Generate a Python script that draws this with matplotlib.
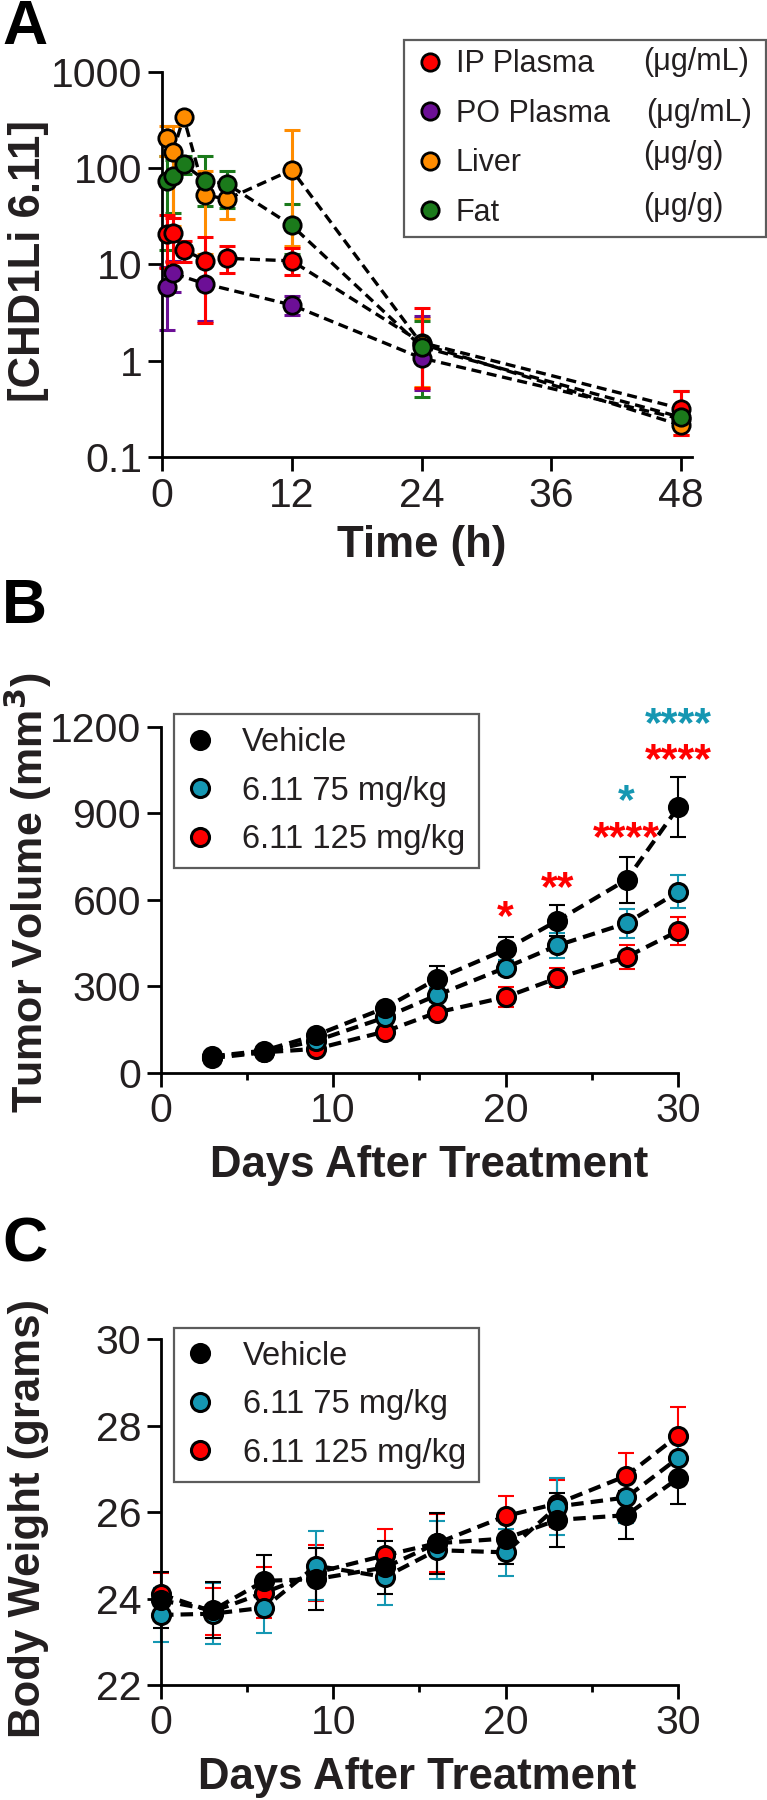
import matplotlib
matplotlib.use("Agg")
import matplotlib.pyplot as plt
import numpy as np

plt.rcParams['font.family'] = ['Liberation Sans', 'DejaVu Sans']
TXT = '#231F20'

# ---------------- panel A data (pharmacokinetics) ----------------
ip_t = [0.5, 1, 2, 4, 6, 12, 24, 48]
ip_mean = [20.9, 21.0, 14.2, 11.0, 11.6, 10.9, 1.55, 0.32]
ip_lo = [9.3, 10.5, 10.5, 2.47, 8.1, 7.7, 0.52, 0.17]
ip_hi = [32.7, 30.4, 17.6, 19.5, 15.6, 14.8, 3.53, 0.49]

po_t = [0.5, 1, 4, 12, 24, 48]
po_mean = [5.9, 8.1, 6.3, 3.8, 1.07, 0.25]
po_lo = [2.1, 5.2, 2.6, 3.0, 0.5, 0.2]
po_hi = [9.5, 11.0, 10.0, 4.7, 2.9, 0.3]

liver_t = [0.5, 1, 2, 4, 6, 12, 24, 48]
liver_mean = [207, 146, 337, 52.7, 47.6, 95.7, 1.5, 0.215]
liver_lo = [132, 25, 337, 13, 29.8, 15.7, 0.54, 0.17]
liver_hi = [273, 273, 337, 93, 70.8, 249, 2.8, 0.28]

fat_t = [0.5, 1, 2, 4, 6, 12, 24, 48]
fat_mean = [74, 82, 110, 74, 68.6, 25.4, 1.4, 0.26]
fat_lo = [14, 34.5, 86, 40, 39, 13, 0.42, 0.2]
fat_hi = [132, 120, 132, 135, 93, 42.6, 2.57, 0.49]

pk_names = ['IP Plasma', 'PO Plasma', 'Liver', 'Fat']
pk_units = ['(\u03bcg/mL)', '(\u03bcg/mL)', '(\u03bcg/g)', '(\u03bcg/g)']
pk_colors = ['#FF0000', '#6C0F96', '#FF8C00', '#1B7A1B']

# ---------------- panel B data (tumor volume) ----------------
tv_days = [3, 6, 9, 13, 16, 20, 23, 27, 30]
tv_vehicle = [56, 76, 129, 224, 324, 427, 527, 669, 921]
tv_vehicle_sd = [8, 10, 12, 15, 46, 44, 53, 80, 105]
tv_75 = [55, 72, 110, 191, 268, 364, 441, 518, 627]
tv_75_sd = [6, 8, 10, 15, 25, 25, 43, 51, 57]
tv_125 = [50, 70, 82, 142, 208, 262, 328, 401, 491]
tv_125_sd = [6, 8, 8, 12, 15, 33, 33, 42, 49]

sig_day = [20, 23, 27, 27, 30, 30]
sig_y = [585, 685, 859, 986, 1128, 1255]
sig_txt = ['*', '**', '****', '*', '****', '****']
sig_col = ['red', 'red', 'red', 'teal', 'red', 'teal']

# ---------------- panel C data (body weight) ----------------
bw_days = [0, 3, 6, 9, 13, 16, 20, 23, 27, 30]
bw_vehicle = [23.96, 23.73, 24.41, 24.45, 24.72, 25.28, 25.39, 25.82, 25.93, 26.78]
bw_vehicle_sd = [0.65, 0.65, 0.6, 0.72, 0.62, 0.7, 0.6, 0.63, 0.55, 0.58]
bw_75 = [23.62, 23.65, 23.79, 24.76, 24.5, 25.12, 25.07, 26.13, 26.34, 27.25]
bw_75_sd = [0.63, 0.7, 0.58, 0.8, 0.65, 0.67, 0.54, 0.65, 0.6, 0.6]
bw_125 = [24.1, 23.7, 24.14, 24.6, 25.0, 25.28, 25.91, 26.2, 26.84, 27.77]
bw_125_sd = [0.5, 0.55, 0.58, 0.65, 0.6, 0.67, 0.46, 0.55, 0.52, 0.66]

grp_names = ['Vehicle', '6.11 75 mg/kg', '6.11 125 mg/kg']
grp_colors = {'black': '#000000', 'teal': '#1597B2', 'red': '#FF0000'}

W, H = 767, 1800
fig = plt.figure(figsize=(W / 100, H / 100), dpi=100)


def px_axes(l, t, r, b):
    return fig.add_axes([l / W, 1 - b / H, (r - l) / W, (b - t) / H])


def style(ax):
    ax.spines['top'].set_visible(False)
    ax.spines['right'].set_visible(False)
    for s in ['left', 'bottom']:
        ax.spines[s].set_linewidth(2.0)
    ax.tick_params(which='major', direction='out', length=10, width=2.0,
                   labelsize=29.5, labelcolor=TXT, pad=4)
    ax.tick_params(which='minor', direction='out', length=5, width=2.0)


DASH = (0, (3.0, 1.7))

# ---------------- Panel A ----------------
axA = px_axes(162, 71.7, 692, 457.3)
axA.set_yscale('log')
pk = [(fat_t, fat_mean, fat_lo, fat_hi, 3),
      (liver_t, liver_mean, liver_lo, liver_hi, 2),
      (po_t, po_mean, po_lo, po_hi, 1),
      (ip_t, ip_mean, ip_lo, ip_hi, 0)]
handlesA = [None] * 4
for t, m, lo, hi, i in pk:
    m = np.array(m)
    yerr = [m - np.array(lo), np.array(hi) - m]
    axA.errorbar(t, m, yerr=yerr, fmt='none', ecolor=pk_colors[i],
                 elinewidth=2.2, capsize=5.5, capthick=2.2, zorder=2, clip_on=False)
for t, m, lo, hi, i in pk:
    axA.plot(t, m, ls=DASH, color='black', lw=2.4, zorder=3, clip_on=False)
for t, m, lo, hi, i in pk:
    h, = axA.plot(t, m, ls='none', marker='o', ms=12.5, mfc=pk_colors[i],
                  mec='black', mew=2.0, zorder=4 + i * 0.1, clip_on=False)
    handlesA[i] = h
axA.set_xlim(0, 49)
axA.set_ylim(0.1, 1000)
axA.set_xticks([0, 12, 24, 36, 48])
axA.set_yticks([0.1, 1, 10, 100, 1000])
axA.set_yticklabels(['0.1', '1', '10', '100', '1000'])
axA.minorticks_off()
style(axA)
axA.set_xlabel('Time (h)', fontsize=31.5, fontweight='bold', color=TXT, va='top')
axA.xaxis.set_label_coords(0.49, -0.175)
axA.set_ylabel('[CHD1Li 6.11]', fontsize=31.5, fontweight='bold', color=TXT)
axA.yaxis.set_label_coords(-0.213, 0.509)

x0 = (404 - 162) / 530
y1 = (457.3 - 40.2) / 385.6
y0 = (457.3 - 234.2) / 385.6
legA = axA.legend(handlesA, pk_names, loc='upper left',
                  bbox_to_anchor=(x0, y0, 361.6 / 530, y1 - y0), mode='expand',
                  fontsize=22, frameon=True, fancybox=False, borderaxespad=0,
                  borderpad=0.3, labelspacing=0.64, handlelength=1.1,
                  handletextpad=0.3)
legA.get_frame().set_edgecolor('#333333')
legA.get_frame().set_linewidth(1.6)
for txt in legA.get_texts():
    txt.set_color(TXT)
unit_x = [643.4, 645.8, 643.4, 643.4]
unit_y = [62.4, 112.9, 155, 206.7]
for u, ux, uy in zip(pk_units, unit_x, unit_y):
    fig.text(ux / W, 1 - uy / H, u, fontsize=22, color=TXT, va='center', ha='left')


def group_panel(ax, days, series, sds, leg_top):
    order = [2, 1, 0]
    cols = [grp_colors['black'], grp_colors['teal'], grp_colors['red']]
    handles = [None] * 3
    for i in order:
        ax.errorbar(days, series[i], yerr=sds[i], fmt='none', ecolor=cols[i],
                    elinewidth=1.5, capsize=6, capthick=1.5, zorder=2, clip_on=False)
    for i in order:
        ax.plot(days, series[i], ls=DASH, color='black', lw=3.0, zorder=3, clip_on=False)
    for k, i in enumerate(order):
        h, = ax.plot(days, series[i], ls='none', marker='o', ms=13, mfc=cols[i],
                     mec='black', mew=2.2, zorder=4 + k * 0.1, clip_on=False)
        handles[i] = h
    leg = ax.legend(handles, grp_names, loc='upper left',
                    bbox_to_anchor=(13.2 / 517.8, leg_top), fontsize=23.5,
                    frameon=True, fancybox=False, borderaxespad=0,
                    borderpad=0.4, labelspacing=0.54, handlelength=0.8,
                    handletextpad=0.9)
    leg.get_frame().set_edgecolor('#333333')
    leg.get_frame().set_linewidth(1.6)
    for txt in leg.get_texts():
        txt.set_color(TXT)
    ax.set_xlim(0, 30)
    ax.set_xticks([0, 10, 20, 30])
    ax.set_xticks([5, 15, 25], minor=True)
    style(ax)


# ---------------- Panel B ----------------
axB = px_axes(160.5, 726.7, 678.3, 1072.5)
group_panel(axB, tv_days, [tv_vehicle, tv_75, tv_125],
            [tv_vehicle_sd, tv_75_sd, tv_125_sd], (1072.5 - 714) / 345.8)
axB.set_ylim(0, 1200)
axB.set_yticks([0, 300, 600, 900, 1200])
for d, y, s, c in zip(sig_day, sig_y, sig_txt, sig_col):
    axB.annotate(s, (d, y), xytext=(0, -18), textcoords='offset points',
                 ha='center', va='baseline', fontsize=31, fontweight='bold',
                 color=grp_colors[c], annotation_clip=False)
axB.set_xlabel('Days After Treatment', fontsize=31.5, fontweight='bold', color=TXT, va='top')
axB.xaxis.set_label_coords(0.519, -0.21)
axB.set_ylabel('Tumor Volume (mm$^{\\mathbf{3}}$)', fontsize=31, fontweight='bold', color=TXT)
axB.yaxis.set_label_coords(-0.205, 0.519)

# ---------------- Panel C ----------------
axC = px_axes(161, 1339.3, 678, 1685)
group_panel(axC, bw_days, [bw_vehicle, bw_75, bw_125],
            [bw_vehicle_sd, bw_75_sd, bw_125_sd], (1685 - 1327.5) / 345.7)
axC.set_ylim(22, 30)
axC.set_yticks([22, 24, 26, 28, 30])
axC.set_xlabel('Days After Treatment', fontsize=31.5, fontweight='bold', color=TXT, va='top')
axC.xaxis.set_label_coords(0.495, -0.208)
axC.set_ylabel('Body Weight (grams)', fontsize=31.5, fontweight='bold', color=TXT)
axC.yaxis.set_label_coords(-0.2166, 0.481)

# panel letters
for letter, base in [('A', 44), ('B', 623), ('C', 1262)]:
    fig.text(2 / W, 1 - base / H, letter, fontsize=45, fontweight='bold',
             color='black', ha='left', va='baseline')

fig.savefig('out.png', dpi=100)
